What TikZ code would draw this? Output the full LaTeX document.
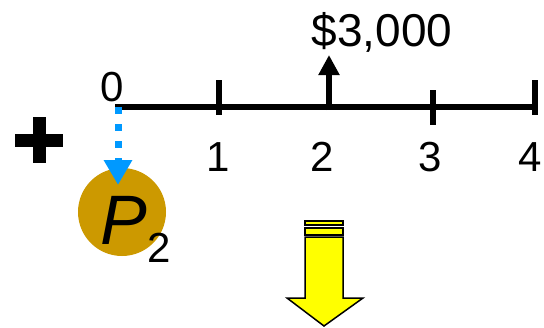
\documentclass[tikz,border=0pt]{standalone}
\usepackage{fontspec}
\setmainfont{Liberation Sans}
\usetikzlibrary{arrows.meta}
\definecolor{coin}{HTML}{CC9900}
\definecolor{flowblue}{HTML}{0099FF}
\definecolor{bigyellow}{HTML}{FFFF00}
\tikzset{
  axis/.style={line width=6pt},
  tickmark/.style={line width=6pt},
  ticklabel/.style={font=\fontsize{42}{42}\selectfont, inner sep=0pt},
  cashflow/.style={line width=6pt, -{Triangle[width=20pt,length=20pt]}},
  transfer/.style={flowblue, line width=7pt, dash pattern=on 7pt off 10pt,
    -{Triangle[width=27pt,length=25pt]}, shorten >=0pt},
  coinshape/.style={circle, fill=coin, minimum size=88pt, inner sep=0pt},
}
\begin{document}
\begin{tikzpicture}[x=1pt,y=-1pt]
\useasboundingbox (0,0) rectangle (544,327);

% time axis
\coordinate (t0) at (118,107);
\coordinate (t4) at (537,107);
\draw[axis] (115,107) -- (t4);
\draw[tickmark] (219,80) -- (219,115);
\draw[tickmark] (433,90) -- (433,125);
\draw[tickmark] (535,80) -- (535,115);

% period labels
\node[ticklabel] (l0) at (112,87) {0};
\node[ticklabel] (l1) at (218,157) {1};
\node[ticklabel] (l2) at (322,157) {2};
\node[ticklabel] (l3) at (430,157) {3};
\node[ticklabel] (l4) at (530,157) {4};

% cash flow at period 2
\coordinate (c2) at (329,110);
\node[font=\fontsize{46}{46}\selectfont, inner sep=0pt] (amt) at (382,32) {\$3,000};
\draw[cashflow] (c2) -- (329,55);

% plus sign
\fill (15,133.5) rectangle (63,146.5);
\fill (32.5,117) rectangle (45.5,163);

% present value coin
\node[coinshape] (coin) at (122,212) {};
\node[font=\fontsize{70}{70}\selectfont\itshape, inner sep=0pt] (P) at (124,220) {P};
\node[ticklabel] (sub) at (159,248) {2};
\draw[transfer] (t0) -- (118,185);

% big downward arrow
\filldraw[fill=bigyellow, draw=black, line width=1.5pt, line join=miter]
  (305,237) -- (343,237) -- (343,298) -- (363,298) -- (324,326)
  -- (287,298) -- (305,298) -- cycle;
\filldraw[fill=bigyellow, draw=black, line width=1.5pt] (305,228) rectangle (343,235);
\filldraw[fill=bigyellow, draw=black, line width=1.5pt] (305,221) rectangle (343,225);
\end{tikzpicture}
\end{document}
